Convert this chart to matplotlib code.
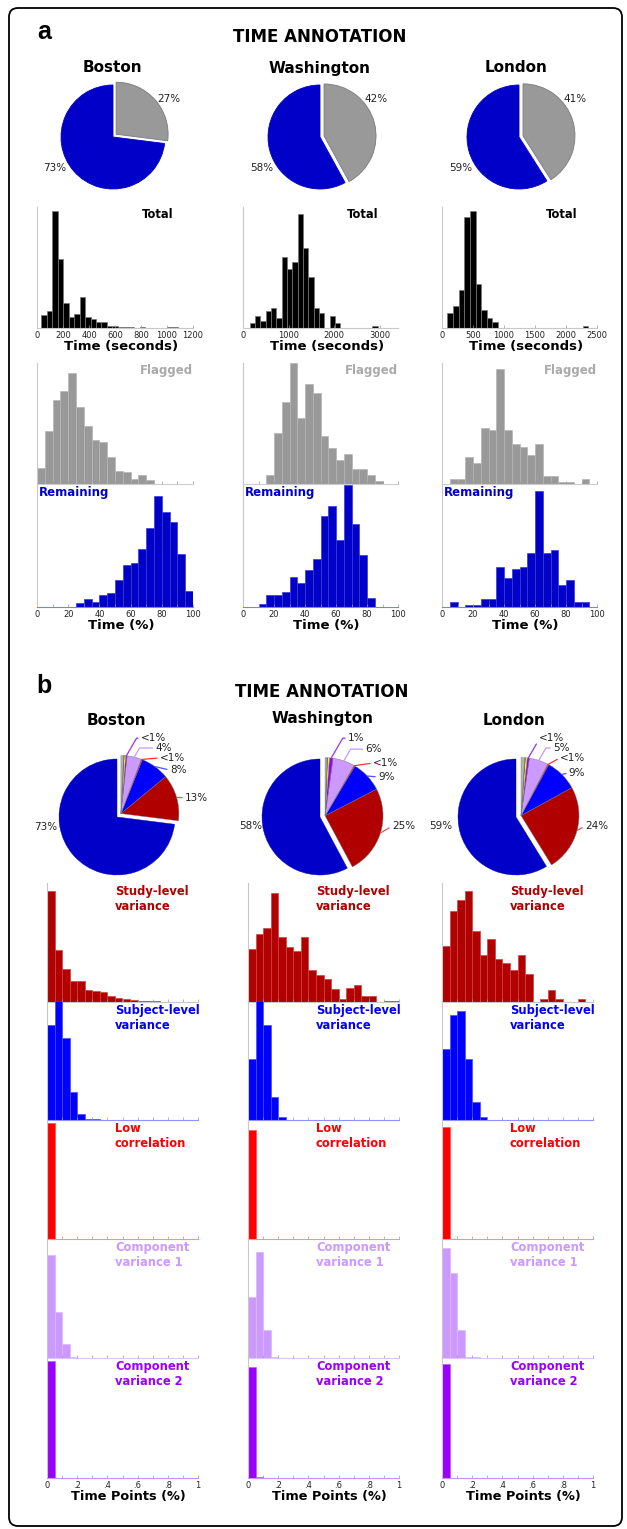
import numpy as np
import matplotlib
matplotlib.use("Agg")
import matplotlib.pyplot as plt
from matplotlib.patches import FancyBboxPatch
from matplotlib.ticker import MultipleLocator, FixedLocator, FixedFormatter

plt.rcParams['font.family'] = ['DejaVu Sans']

W, H = 627, 1529

cities = ["Boston", "Washington", "London"]

# ---------------- panel a ----------------
# share of annotation time (%)
remaining_pct = [73, 58, 59]
flagged_pct = [27, 42, 41]

# total time per subject (seconds): first bin edge, bin width, counts
total_start = [34, 145, 86]
total_width = [42, 117, 91]
total_boston = [40, 52, 352, 207, 75, 33, 43, 95, 33, 27, 17, 17, 7, 7, 4, 2, 2, 0, 3,
                0, 0, 0, 0, 2, 2]
total_washington = [15, 37, 22, 52, 59, 30, 213, 177, 198, 345, 242, 155, 60, 44, 0, 37,
                    15, 0, 0, 0, 0, 0, 0, 7]
total_london = [46, 65, 115, 335, 353, 133, 55, 31, 17, 0, 0, 0, 0, 0, 0, 0, 0, 0, 0, 0,
                0, 0, 0, 0, 5]
total_xmax = [1200, 3400, 2500]
total_xstep = [200, 1000, 500]

# flagged / remaining time (%), bins of 5 %
flagged_boston = [48, 160, 253, 281, 335, 233, 175, 133, 126, 80, 40, 37, 15, 26, 13, 0, 0, 0, 0, 0]
flagged_washington = [0, 0, 0, 27, 155, 246, 365, 200, 301, 273, 145, 108, 72, 90, 45, 45, 26, 8, 0, 0]
flagged_london = [0, 15, 15, 81, 63, 170, 162, 348, 162, 121, 113, 88, 120, 23, 23, 5, 5, 0, 15, 0]
remaining_boston = [0, 0, 0, 0, 0, 13, 25, 15, 37, 42, 80, 127, 133, 175, 237, 332, 283, 253, 158, 48]
remaining_washington = [0, 0, 8, 35, 35, 45, 90, 72, 110, 145, 273, 302, 200, 365, 247, 155, 27, 0, 0, 0]
remaining_london = [0, 15, 0, 6, 6, 23, 23, 120, 88, 113, 120, 162, 347, 162, 170, 65, 80, 15, 15, 0]

# ---------------- panel b ----------------
# pie slices (%), counter-clockwise from 12 o'clock
remain_b = [73.0, 57.8, 58.8]
study_b = [13.0, 24.8, 24.2]
subject_b = [8.0, 8.8, 9.1]
lowcorr_b = [0.3, 0.3, 0.3]
comp1_b = [4.0, 6.1, 5.3]
comp2_b = [0.4, 1.0, 0.6]
yellow_b = [0.4, 0.5, 0.5]
dark_b = [0.2, 0.2, 0.2]
grey_b = [0.7, 0.5, 1.0]

# flagged time points (fraction), 20 bins over 0..1
study_counts = [
    [332, 155, 99, 62, 62, 35, 32, 29, 18, 12, 8, 6, 4, 3, 2, 1, 1, 1, 1, 1],
    [160, 205, 223, 328, 195, 165, 152, 195, 95, 80, 70, 40, 8, 42, 52, 17, 17, 0, 2, 2],
    [167, 273, 307, 332, 213, 142, 190, 130, 118, 95, 142, 83, 0, 10, 35, 10, 0, 0, 10, 0],
]
subject_counts = [
    [288, 370, 249, 84, 18, 3, 3, 0, 0, 0, 0, 0, 0, 0, 0, 0, 0, 0, 0, 0],
    [186, 370, 288, 69, 9, 0, 0, 0, 0, 0, 0, 0, 0, 0, 0, 0, 0, 0, 0, 0],
    [216, 318, 330, 186, 54, 9, 0, 0, 0, 0, 0, 0, 0, 0, 0, 0, 0, 0, 0, 0],
]
lowcorr_counts = [
    [348, 0, 0, 0, 0, 0, 0, 0, 0, 0, 0, 0, 0, 0, 0, 0, 0, 0, 0, 0],
    [327, 1, 0, 0, 0, 0, 0, 0, 0, 0, 0, 0, 0, 0, 0, 0, 0, 0, 0, 0],
    [336, 0, 0, 0, 0, 0, 0, 0, 0, 0, 0, 0, 0, 0, 0, 0, 0, 0, 0, 0],
]
comp1_counts = [
    [309, 138, 42, 3, 0, 0, 0, 0, 0, 0, 0, 0, 0, 0, 0, 0, 0, 0, 0, 0],
    [183, 318, 84, 3, 0, 0, 0, 0, 0, 0, 0, 0, 0, 0, 0, 0, 0, 0, 0, 0],
    [330, 255, 84, 3, 3, 0, 0, 0, 0, 0, 0, 0, 0, 0, 0, 0, 0, 0, 0, 0],
]
comp2_counts = [
    [348, 0, 0, 0, 0, 0, 0, 0, 0, 0, 0, 0, 0, 0, 0, 0, 0, 0, 0, 0],
    [330, 3, 0, 0, 0, 0, 0, 0, 0, 0, 0, 0, 0, 0, 0, 0, 0, 0, 0, 0],
    [339, 0, 0, 0, 0, 0, 0, 0, 0, 0, 0, 0, 0, 0, 0, 0, 0, 0, 0, 0],
]

# colours
BLUE_DARK = "#0000c8"
GRAY = "#999999"
STUDY = "#b00000"
SUBJECT = "#0000ff"
LOWCORR = "#ff0000"
COMP1 = "#cc99ff"
COMP2 = "#9900ff"

total_counts = [total_boston, total_washington, total_london]
flagged_counts = [flagged_boston, flagged_washington, flagged_london]
remaining_counts = [remaining_boston, remaining_washington, remaining_london]


def pct_text(v):
    return "<1%" if v < 1 else "%d%%" % round(v)


fig = plt.figure(figsize=(W / 100, H / 100), dpi=100)


def px_axes(x0, y0, x1, y1):
    return fig.add_axes([x0 / W, 1 - y1 / H, (x1 - x0) / W, (y1 - y0) / H])


def hist_panel(ax, edges, counts, color, ec, xmax, ymax, base_color):
    ax.hist(edges[:-1], bins=edges, weights=counts, color=color, edgecolor=ec, linewidth=0.5)
    ax.set_xlim(0, xmax)
    ax.set_ylim(0, ymax)
    ax.set_yticks([])
    ax.spines[["top", "right"]].set_visible(False)
    ax.spines["left"].set_color("#c8c8c8")
    ax.spines["bottom"].set_color(base_color)
    ax.spines["left"].set_linewidth(0.8)
    ax.spines["bottom"].set_linewidth(0.8)
    ax.patch.set_alpha(0)
    ax.tick_params(axis="x", which="both", direction="in", length=2.5, width=0.5,
                   color="#999999", labelcolor="#222222", labelsize=6, pad=2.5)


# background with frame and headings
bg = px_axes(0, 0, W, H)
bg.set_xlim(0, W)
bg.set_ylim(H, 0)
bg.axis("off")
bg.add_patch(FancyBboxPatch((9, 8), 613, 1518, boxstyle="round,pad=0,rounding_size=9",
                            fill=False, ec="black", lw=1.3))
bg.text(44, 39, "a", family="Liberation Sans", weight="bold", fontsize=18, ha="center", va="baseline")
bg.text(44, 693, "b", family="Liberation Sans", weight="bold", fontsize=18, ha="center", va="baseline")
bg.text(320, 42.5, "TIME ANNOTATION", fontsize=12, weight="bold", ha="center", va="baseline")
bg.text(322, 697, "TIME ANNOTATION", fontsize=12, weight="bold", ha="center", va="baseline")
for cx, name in zip([112, 320, 516], cities):
    bg.text(cx, 72.5, name, fontsize=11, weight="bold", ha="center", va="baseline")
for cx, y, name in zip([116, 323, 514], [725, 723, 725], cities):
    bg.text(cx, y, name, fontsize=11, weight="bold", ha="center", va="baseline")

# ---- panel a pies ----
pie_a_x = [113, 320, 519]
R_a = 52
for i in range(3):
    cx, cy = pie_a_x[i], 137
    ax = px_axes(cx - 1.6 * R_a, cy - 1.6 * R_a, cx + 1.6 * R_a, cy + 1.6 * R_a)
    wedges, _ = ax.pie([remaining_pct[i], flagged_pct[i]], colors=[BLUE_DARK, GRAY],
                       startangle=90, explode=[0, 0.08], wedgeprops=dict(linewidth=0.6))
    wedges[0].set_edgecolor(BLUE_DARK)
    wedges[1].set_edgecolor("#7a7a7a")
    ax.text(0.86, 0.73, "%d%%" % flagged_pct[i], ha="left", va="center", fontsize=7.5, color="#222222")
    ax.text(-0.9, -0.6, "%d%%" % remaining_pct[i], ha="right", va="center", fontsize=7.5, color="#222222")
    ax.set_xlim(-1.6, 1.6)
    ax.set_ylim(-1.6, 1.6)
    ax.set_aspect("equal")

# ---- panel a histograms ----
xs_a = [(37, 193), (243, 398), (442, 597)]
pct_edges = np.linspace(0, 100, 21)
for i in range(3):
    x0, x1 = xs_a[i]

    ax = px_axes(x0, 207, x1, 328)
    edges = total_start[i] + total_width[i] * np.arange(len(total_counts[i]) + 1)
    hist_panel(ax, edges, total_counts[i], "black", "#777777", total_xmax[i], 365, "#c8c8c8")
    ax.xaxis.set_major_locator(MultipleLocator(total_xstep[i]))
    ax.text(0.872, 0.99, "Total", transform=ax.transAxes, ha="right", va="top",
            fontsize=8.3, weight="bold")
    ax.set_xlabel("Time (seconds)", fontsize=9.5, weight="bold")
    ax.xaxis.set_label_coords(0.54, -0.1)

    ax = px_axes(x0, 363, x1, 484)
    hist_panel(ax, pct_edges, flagged_counts[i], GRAY, "#b5b5b5", 100, 365, "#cccccc")
    ax.xaxis.set_major_locator(MultipleLocator(10))
    ax.tick_params(labelbottom=False)
    ax.text(1.0, 0.99, "Flagged", transform=ax.transAxes, ha="right", va="top",
            fontsize=8.5, weight="bold", color="#aaaaaa")

    ax = px_axes(x0, 484, x1, 607)
    hist_panel(ax, pct_edges, remaining_counts[i], BLUE_DARK, "#3a3ad8", 100, 368, "#8080e0")
    ax.xaxis.set_major_locator(MultipleLocator(20))
    ax.xaxis.set_minor_locator(MultipleLocator(10))
    ax.text(0.01, 0.985, "Remaining", transform=ax.transAxes, ha="left", va="top",
            fontsize=8.5, weight="bold", color=BLUE_DARK)
    ax.set_xlabel("Time (%)", fontsize=9.5, weight="bold")
    ax.xaxis.set_label_coords(0.54, -0.1)

# ---- panel b pies ----
b_slices = [remain_b, study_b, subject_b, lowcorr_b, comp1_b, comp2_b, yellow_b, dark_b, grey_b]
b_colors = [BLUE_DARK, STUDY, SUBJECT, LOWCORR, COMP1, COMP2, "#ffff00", "#262626", "#b4b4b4"]
leader_colors = [None, "#d85a5a", "#5050ff", "#ff3030", "#c39aff", "#9a30ff"]
pie_b_x = [117, 320, 516]
R_b = 58
# label spots (pie radius units) for study, subject, low corr, comp 1, comp 2
b_label_pos = [
    [(1.17, 0.33), (0.91, 0.81), (0.74, 1.02), (0.66, 1.19), (0.41, 1.36)],
    [(1.24, -0.16), (1.0, 0.69), (0.91, 0.93), (0.78, 1.17), (0.48, 1.36)],
    [(1.19, -0.16), (0.91, 0.76), (0.76, 1.02), (0.64, 1.19), (0.40, 1.36)],
]
b_remain_pos = [(-1.03, -0.17), (-1.0, -0.16), (-1.09, -0.16)]
for i in range(3):
    cx, cy = pie_b_x[i], 817
    ax = px_axes(cx - 1.6 * R_b, cy - 1.6 * R_b, cx + 1.6 * R_b, cy + 1.6 * R_b)
    vals = [s[i] for s in b_slices]
    wedges, _ = ax.pie(vals, colors=b_colors, startangle=90,
                       wedgeprops=dict(linewidth=0.3, edgecolor="#777777"))
    wedges[0].set_edgecolor(BLUE_DARK)
    mid = np.deg2rad((wedges[1].theta1 + wedges[-1].theta2) / 2)
    off = (0.09 * np.cos(mid), 0.09 * np.sin(mid))
    for w in wedges[1:]:
        w.set_center(off)
    for k in range(1, 6):
        w = wedges[k]
        a = np.deg2rad((w.theta1 + w.theta2) / 2)
        xy = (off[0] + np.cos(a), off[1] + np.sin(a))
        tx, ty = b_label_pos[i][k - 1]
        cs = "angle,angleA=0,angleB=60,rad=0" if ty - xy[1] > 0.12 else "arc3"
        ax.annotate(pct_text(vals[k]), xy=xy, xytext=(tx, ty), ha="left", va="center",
                    fontsize=7.5, color="#222222",
                    arrowprops=dict(arrowstyle="-", color=leader_colors[k], lw=0.9,
                                    shrinkA=0, shrinkB=0, relpos=(0, 0.5),
                                    connectionstyle=cs))
    rx, ry = b_remain_pos[i]
    ax.text(rx, ry, pct_text(vals[0]), ha="right", va="center", fontsize=7.5, color="#222222")
    ax.set_xlim(-1.6, 1.6)
    ax.set_ylim(-1.6, 1.6)
    ax.set_aspect("equal")

# ---- panel b histograms ----
rows_b = [
    ("Study-level\nvariance", STUDY, "#d04040", study_counts, "#c8c8c8"),
    ("Subject-level\nvariance", SUBJECT, "#4a4aff", subject_counts, "#9090ff"),
    ("Low\ncorrelation", LOWCORR, "#ff5050", lowcorr_counts, "#ff9090"),
    ("Component\nvariance 1", COMP1, "#dab8ff", comp1_counts, "#ddc4ff"),
    ("Component\nvariance 2", COMP2, "#b060ff", comp2_counts, "#c690ff"),
]
row_y = [883, 1002, 1120, 1239, 1358, 1478]
xs_b = [(47, 198), (248, 399), (442, 593)]
frac_edges = np.linspace(0, 1, 21)
for r, (label, color, ec, counts, base) in enumerate(rows_b):
    for i in range(3):
        x0, x1 = xs_b[i]
        ax = px_axes(x0, row_y[r], x1, row_y[r + 1])
        hist_panel(ax, frac_edges, counts[i], color, ec, 1, 357, base)
        ax.xaxis.set_major_locator(FixedLocator([0, 0.2, 0.4, 0.6, 0.8, 1.0]))
        ax.xaxis.set_major_formatter(FixedFormatter(["0", ".2", ".4", ".6", ".8", "1"]))
        ax.xaxis.set_minor_locator(MultipleLocator(0.1))
        ax.text(0.45, 0.985, label, transform=ax.transAxes, ha="left", va="top",
                fontsize=8.3, weight="bold", color=color, linespacing=1.2)
        if r < len(rows_b) - 1:
            ax.tick_params(labelbottom=False)
        else:
            ax.set_xlabel("Time Points (%)", fontsize=9.3, weight="bold")
            ax.xaxis.set_label_coords(0.54, -0.1)

fig.savefig("out.png", dpi=100)
